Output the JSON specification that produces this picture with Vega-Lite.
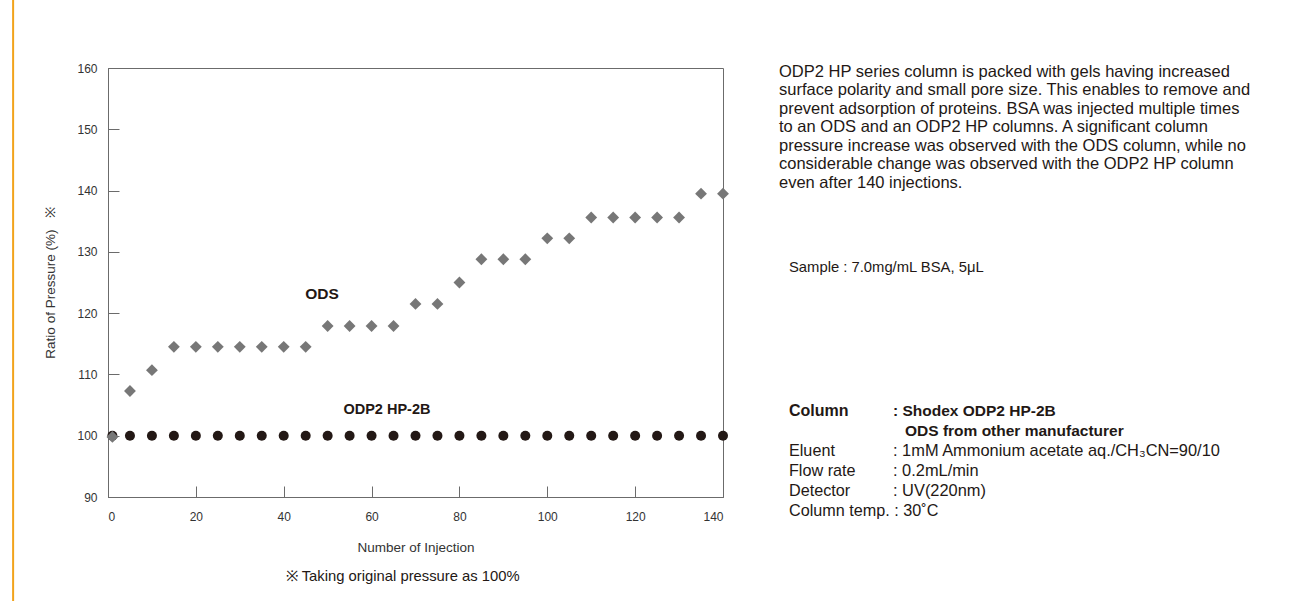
{
  "$schema": "https://vega.github.io/schema/vega-lite/v6.json",
  "width": 615,
  "height": 429,
  "autosize": {"type": "none"},
  "padding": {"left": 108, "top": 68, "right": 567, "bottom": 104},
  "background": "white",
  "config": {
    "font": "Liberation Sans",
    "view": {"stroke": "#6b6b6b", "strokeWidth": 1},
    "axis": {"grid": false, "domainColor": "#6b6b6b", "tickColor": "#6b6b6b", "labelColor": "#333333", "titleColor": "#333333", "labelFont": "Liberation Sans", "titleFont": "Liberation Sans", "labelFontSize": 12, "titleFontSize": 13.5, "titleFontWeight": "normal"}
  },
  "datasets": {
    "ods": [
      {"injection": 1, "ratio": 99.8}, {"injection": 5, "ratio": 107.3}, {"injection": 10, "ratio": 110.7},
      {"injection": 15, "ratio": 114.5}, {"injection": 20, "ratio": 114.5}, {"injection": 25, "ratio": 114.5},
      {"injection": 30, "ratio": 114.5}, {"injection": 35, "ratio": 114.5}, {"injection": 40, "ratio": 114.5},
      {"injection": 45, "ratio": 114.5}, {"injection": 50, "ratio": 117.9}, {"injection": 55, "ratio": 117.9},
      {"injection": 60, "ratio": 117.9}, {"injection": 65, "ratio": 117.9}, {"injection": 70, "ratio": 121.5},
      {"injection": 75, "ratio": 121.5}, {"injection": 80, "ratio": 125.0}, {"injection": 85, "ratio": 128.8},
      {"injection": 90, "ratio": 128.8}, {"injection": 95, "ratio": 128.8}, {"injection": 100, "ratio": 132.2},
      {"injection": 105, "ratio": 132.2}, {"injection": 110, "ratio": 135.6}, {"injection": 115, "ratio": 135.6},
      {"injection": 120, "ratio": 135.6}, {"injection": 125, "ratio": 135.6}, {"injection": 130, "ratio": 135.6},
      {"injection": 135, "ratio": 139.5}, {"injection": 140, "ratio": 139.5}
    ],
    "odp": [
      {"injection": 1, "ratio": 100}, {"injection": 5, "ratio": 100}, {"injection": 10, "ratio": 100},
      {"injection": 15, "ratio": 100}, {"injection": 20, "ratio": 100}, {"injection": 25, "ratio": 100},
      {"injection": 30, "ratio": 100}, {"injection": 35, "ratio": 100}, {"injection": 40, "ratio": 100},
      {"injection": 45, "ratio": 100}, {"injection": 50, "ratio": 100}, {"injection": 55, "ratio": 100},
      {"injection": 60, "ratio": 100}, {"injection": 65, "ratio": 100}, {"injection": 70, "ratio": 100},
      {"injection": 75, "ratio": 100}, {"injection": 80, "ratio": 100}, {"injection": 85, "ratio": 100},
      {"injection": 90, "ratio": 100}, {"injection": 95, "ratio": 100}, {"injection": 100, "ratio": 100},
      {"injection": 105, "ratio": 100}, {"injection": 110, "ratio": 100}, {"injection": 115, "ratio": 100},
      {"injection": 120, "ratio": 100}, {"injection": 125, "ratio": 100}, {"injection": 130, "ratio": 100},
      {"injection": 135, "ratio": 100}, {"injection": 140, "ratio": 100}
    ],
    "one": [{}]
  },
  "layer": [
    {
      "data": {"name": "odp"},
      "mark": {"type": "point", "shape": "circle", "filled": true, "opacity": 1, "size": 100, "color": "#231815"},
      "encoding": {
        "x": {"field": "injection", "type": "quantitative",
          "scale": {"domain": [0, 140], "nice": false, "zero": false},
          "axis": {"values": [0, 20, 40, 60, 80, 100, 120, 140], "tickSize": -11, "labelPadding": 25, "title": "Number of Injection", "titlePadding": 18}},
        "y": {"field": "ratio", "type": "quantitative",
          "scale": {"domain": [90, 160], "nice": false, "zero": false},
          "axis": {"values": [90, 100, 110, 120, 130, 140, 150, 160], "tickSize": -11, "labelPadding": 22, "title": "Ratio of Pressure (%)\u00a0\u00a0\u00a0※", "titlePadding": 19}}
      }
    },
    {
      "data": {"name": "ods"},
      "mark": {"type": "point", "shape": "diamond", "filled": true, "opacity": 1, "size": 140, "color": "#777777"},
      "encoding": {
        "x": {"field": "injection", "type": "quantitative"},
        "y": {"field": "ratio", "type": "quantitative"}
      }
    },
    {
      "data": {"name": "one"},
      "mark": {"type": "text", "text": "ODS", "fontWeight": "bold", "fontSize": 15.5, "color": "#231815", "align": "center", "baseline": "middle"},
      "encoding": {"x": {"datum": 48.7, "type": "quantitative"}, "y": {"datum": 123.1, "type": "quantitative"}}
    },
    {
      "data": {"name": "one"},
      "mark": {"type": "text", "text": "ODP2 HP-2B", "fontWeight": "bold", "fontSize": 14.5, "color": "#231815", "align": "center", "baseline": "middle"},
      "encoding": {"x": {"datum": 63.5, "type": "quantitative"}, "y": {"datum": 104.2, "type": "quantitative"}}
    },
    {
      "data": {"name": "one"},
      "mark": {"type": "rule", "color": "#F2A31B", "strokeWidth": 2, "clip": false},
      "encoding": {"x": {"datum": -21.6, "type": "quantitative"}, "y": {"datum": 175, "type": "quantitative"}, "y2": {"datum": 70}}
    },
    {
      "data": {"name": "one"},
      "mark": {"type": "text", "align": "left", "baseline": "middle", "fontSize": 16.5, "lineHeight": 18.5, "color": "#231815",
        "text": ["ODP2 HP series column is packed with gels having increased", "surface polarity and small pore size. This enables to remove and", "prevent adsorption of proteins. BSA was injected multiple times", "to an ODS and an ODP2 HP columns. A significant column", "pressure increase was observed with the ODS column, while no", "considerable change was observed with the ODP2 HP column", "even after 140 injections."]},
      "encoding": {"x": {"datum": 152.75, "type": "quantitative"}, "y": {"datum": 159.35, "type": "quantitative"}}
    },
    {
      "data": {"name": "one"},
      "mark": {"type": "text", "align": "left", "baseline": "middle", "fontSize": 14.8, "color": "#231815", "text": "Sample : 7.0mg/mL BSA, 5μL"},
      "encoding": {"x": {"datum": 155.02, "type": "quantitative"}, "y": {"datum": 127.37, "type": "quantitative"}}
    },
    {
      "data": {"name": "one"},
      "mark": {"type": "text", "align": "left", "baseline": "middle", "fontSize": 16, "fontWeight": "bold", "color": "#231815", "text": "Column"},
      "encoding": {"x": {"datum": 155.02, "type": "quantitative"}, "y": {"datum": 104.03, "type": "quantitative"}}
    },
    {
      "data": {"name": "one"},
      "mark": {"type": "text", "align": "left", "baseline": "middle", "fontSize": 15.5, "fontWeight": "bold", "color": "#231815", "text": ": Shodex ODP2 HP-2B"},
      "encoding": {"x": {"datum": 178.7, "type": "quantitative"}, "y": {"datum": 104.03, "type": "quantitative"}}
    },
    {
      "data": {"name": "one"},
      "mark": {"type": "text", "align": "left", "baseline": "middle", "fontSize": 15.5, "fontWeight": "bold", "color": "#231815", "text": "ODS from other manufacturer"},
      "encoding": {"x": {"datum": 181.43, "type": "quantitative"}, "y": {"datum": 100.77, "type": "quantitative"}}
    },
    {
      "data": {"name": "one"},
      "mark": {"type": "text", "align": "left", "baseline": "middle", "fontSize": 16.2, "lineHeight": 20, "color": "#231815",
        "text": ["Eluent", "Flow rate", "Detector", "Column temp. : 30˚C"]},
      "encoding": {"x": {"datum": 155.02, "type": "quantitative"}, "y": {"datum": 97.51, "type": "quantitative"}}
    },
    {
      "data": {"name": "one"},
      "mark": {"type": "text", "align": "left", "baseline": "middle", "fontSize": 16.4, "lineHeight": 20, "color": "#231815",
        "text": [": 1mM Ammonium acetate aq./CH₃CN=90/10", ": 0.2mL/min", ": UV(220nm)"]},
      "encoding": {"x": {"datum": 178.7, "type": "quantitative"}, "y": {"datum": 97.51, "type": "quantitative"}}
    },
    {
      "data": {"name": "one"},
      "mark": {"type": "text", "align": "center", "baseline": "middle", "fontSize": 14.8, "color": "#231815", "text": "※ Taking original pressure as 100%"},
      "encoding": {"x": {"datum": 67.1, "type": "quantitative"}, "y": {"datum": 76.95, "type": "quantitative"}}
    }
  ]
}
